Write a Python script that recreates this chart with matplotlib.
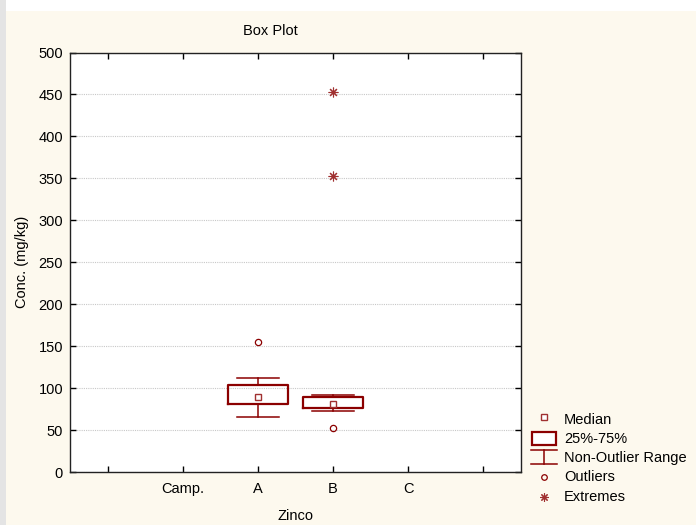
import matplotlib
matplotlib.use("Agg")
import matplotlib.pyplot as plt
from matplotlib.patches import Rectangle
from matplotlib.lines import Line2D

plt.rcParams['font.family'] = ['Liberation Sans', 'DejaVu Sans']
plt.rcParams['font.size'] = 10.5

# Category axis (empty slots on both ends, like the original layout)
tick_labels = ['', 'Camp.', 'A', 'B', 'C', '']
groups = ['A', 'B']
group_pos = [2, 3]

# Box statistics (mg/kg)
medians = [89.0, 81.3]
q1 = [81.5, 76.5]
q3 = [104.0, 89.6]
whisker_low = [65.0, 72.6]
whisker_high = [111.5, 91.6]
outliers = [[155.0], [53.0]]
extremes = [[], [453.0, 353.0]]

DARK = '#8B0000'
SOFT = '#A03030'
CREAM = '#FDF9EE'
FS = 10.5

fig = plt.figure(figsize=(6.96, 5.25), dpi=100, facecolor=CREAM)

# window frame: white strip on top, grey strip on the left
frame = fig.add_axes([0, 0, 1, 1], zorder=-10)
frame.set_xlim(0, 696)
frame.set_ylim(525, 0)
frame.axis('off')
frame.add_patch(Rectangle((0, 0), 696, 11, color='white', lw=0))
frame.add_patch(Rectangle((0, 0), 6, 525, color='#E4E4E4', lw=0))

ax = fig.add_axes([70 / 696, 1 - 472 / 525, (521 - 70) / 696, (472 - 52.5) / 525])
ax.set_facecolor('white')

stats = []
for i, g in enumerate(groups):
    stats.append(dict(label=g, med=medians[i], q1=q1[i], q3=q3[i],
                      whislo=whisker_low[i], whishi=whisker_high[i], fliers=[]))

ax.bxp(stats, positions=group_pos, widths=0.8, showfliers=False,
       boxprops=dict(color=DARK, linewidth=1.6),
       whiskerprops=dict(color=DARK, linewidth=1.1),
       capprops=dict(color=DARK, linewidth=1.1),
       medianprops=dict(linewidth=0),
       capwidths=0.56, manage_ticks=False, zorder=3)

ax.plot(group_pos, medians, linestyle='none', marker='s', markersize=4.5,
        markerfacecolor='white', markeredgecolor=SOFT, markeredgewidth=1.0, zorder=4)

for p, vals in zip(group_pos, outliers):
    ax.plot([p] * len(vals), vals, linestyle='none', marker='o', markersize=4.5,
            markerfacecolor='none', markeredgecolor=DARK, markeredgewidth=0.9, zorder=4)
for p, vals in zip(group_pos, extremes):
    ax.plot([p] * len(vals), vals, linestyle='none', marker=(8, 2, 0), markersize=7,
            color=SOFT, markeredgewidth=0.8, zorder=4)

ax.set_xlim(-0.5, 5.5)
ax.set_ylim(0, 500)
ax.set_xticks(range(len(tick_labels)))
ax.set_xticklabels(tick_labels)
ax.set_yticks(range(0, 501, 50))
ax.yaxis.grid(True, color='#C8C8C8', linestyle=(0, (1, 1)), linewidth=0.8)
ax.set_axisbelow(True)
ax.tick_params(direction='in', length=4, width=1, top=True, right=True,
               labelsize=FS, colors='black', pad=5)
ax.tick_params(axis='x', pad=7)
for s in ax.spines.values():
    s.set_linewidth(1.0)
    s.set_color('#222222')

fig.text(270 / 696, 1 - 31 / 525, 'Box Plot', ha='center', va='center', fontsize=FS)
fig.text(296 / 696, 1 - 516 / 525, 'Zinco', ha='center', va='center', fontsize=FS)
fig.text(22 / 696, 1 - 262 / 525, 'Conc. (mg/kg)', ha='center', va='center',
         rotation=90, fontsize=FS)

# legend keys
leg = fig.add_axes([0, 0, 1, 1], zorder=5)
leg.set_xlim(0, 696)
leg.set_ylim(525, 0)
leg.axis('off')
kx = 544
leg.plot([kx], [417], marker='s', markersize=3.8, markerfacecolor='white',
         markeredgecolor=SOFT, markeredgewidth=1.0)
leg.add_patch(Rectangle((532, 432), 24, 12.5, facecolor='white', edgecolor=DARK, lw=1.6))
leg.add_line(Line2D([531, 557], [450, 450], color=DARK, lw=1.1))
leg.add_line(Line2D([kx, kx], [450, 464], color=DARK, lw=1.1))
leg.add_line(Line2D([531, 557], [464, 464], color=DARK, lw=1.1))
leg.plot([kx], [476.5], marker='o', markersize=4, markerfacecolor='none',
         markeredgecolor=DARK, markeredgewidth=0.9)
leg.plot([kx], [497], marker=(8, 2, 0), markersize=6, color=SOFT, markeredgewidth=0.8)
for y, t in zip([420, 439, 458, 477, 497],
                ['Median', '25%-75%', 'Non-Outlier Range', 'Outliers', 'Extremes']):
    leg.text(564, y, t, ha='left', va='center', fontsize=FS)

fig.savefig('out.png', dpi=100, facecolor=CREAM)
